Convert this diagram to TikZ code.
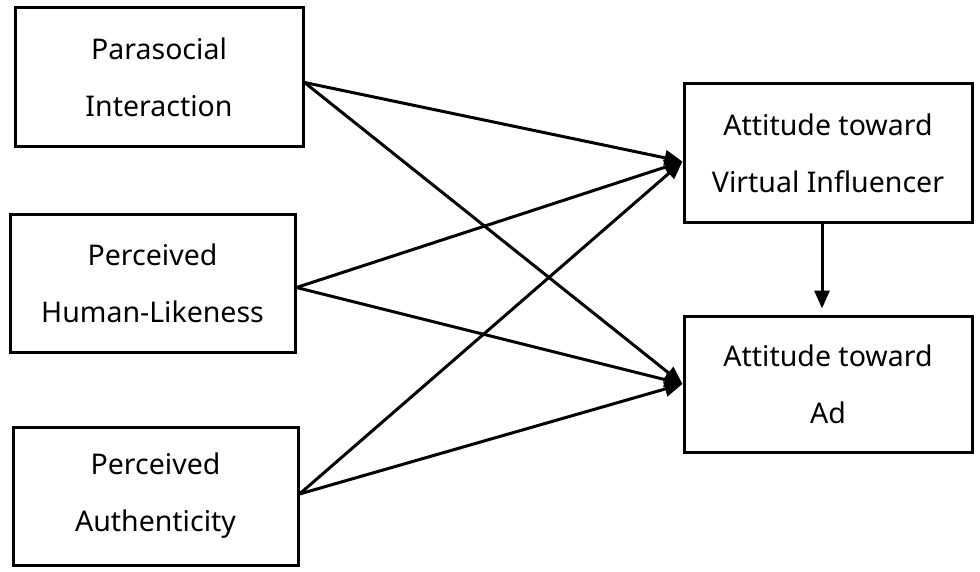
\documentclass[tikz,border=0pt]{standalone}
\usepackage{fontspec}
\setmainfont{Noto Sans}
\usepackage{xcolor}
\usepackage{tikz}
\usetikzlibrary{positioning, arrows.meta}
\definecolor{inkblack}{HTML}{000000}

\begin{document}
\begin{tikzpicture}[x=1pt, y=-1pt,
    factor/.style={draw=inkblack, line width=3pt, align=center, inner sep=0pt,
      font=\fontsize{28.5}{57}\selectfont},
    link/.style={draw=inkblack, line width=3pt, -{Triangle[length=18pt, width=15pt]}}]
  \useasboundingbox (0,0) rectangle (980,572);
  \node[factor, minimum width=288pt, minimum height=139pt] (pi) at (159,77.5) {Parasocial\\Interaction};
  \node[factor, minimum width=285pt, minimum height=137pt] (hl) at (152.5,283.5) {Perceived\\Human-Likeness};
  \node[factor, minimum width=285pt, minimum height=138pt] (au) at (155.5,496) {Perceived\\Authenticity};
  \node[factor, minimum width=288pt, minimum height=139pt] (vi) at (828,153.5) {Attitude toward\\Virtual Influencer};
  \node[factor, minimum width=288pt, minimum height=136pt] (ad) at (828,384) {Attitude toward\\Ad};
  \coordinate (vin) at ([yshift=-8pt]vi.west);
  \coordinate (adin) at (ad.west);
  \draw[link] ([yshift=-5pt]pi.east) -- (vin);
  \draw[link] ([yshift=-5pt]pi.east) -- (adin);
  \draw[link] ([yshift=-4pt]hl.east) -- (vin);
  \draw[link] ([yshift=-4pt]hl.east) -- (adin);
  \draw[link] ([yshift=2pt]au.east) -- (vin);
  \draw[link] ([yshift=2pt]au.east) -- (adin);
  \draw[link, shorten >=6pt] ([xshift=-6pt]vi.south) -- ([xshift=-6pt]ad.north);
\end{tikzpicture}
\end{document}
